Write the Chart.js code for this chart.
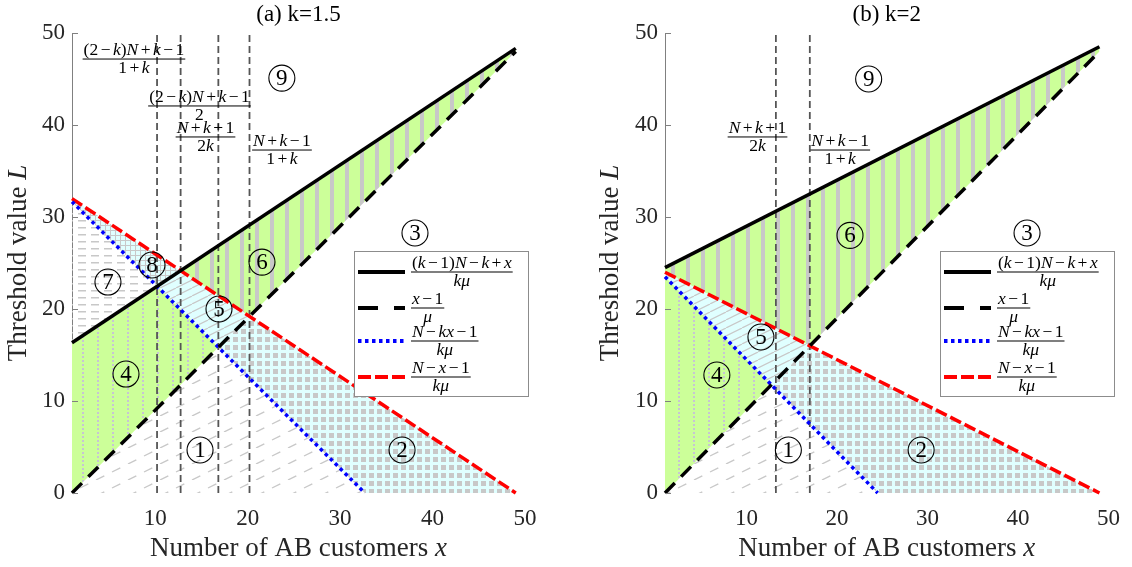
<!DOCTYPE html>
<html>
<head>
<meta charset="utf-8">
<script src="https://cdn.jsdelivr.net/npm/chart.js@4.4.1/dist/chart.umd.min.js"></script>
<style>
  html, body { margin: 0; padding: 0; background: #fff; }
  #wrap { position: relative; width: 1132px; height: 567px; }
  .panel { position: absolute; top: 0; width: 566px; height: 567px; }
</style>
</head>
<body>
<div id="wrap">
  <div class="panel" style="left:0"><canvas id="chartA" width="566" height="567"></canvas></div>
  <div class="panel" style="left:566px"><canvas id="chartB" width="566" height="567"></canvas></div>
</div>
<script>
// Ejes
const xTicks = [10, 20, 30, 40, 50];
const yTicks = [0, 10, 20, 30, 40, 50];

// (a) k=1.5 : extremos de las rectas
const aSolid = [[1, 16.33], [49, 48.33]];
const aDashed = [[1, 0], [49, 48]];
const aBlue = [[1, 31.67], [32.67, 0]];
const aRed = [[1, 32], [49, 0]];
const aVLines = [10.2, 12.75, 16.83, 20.2];

// (a) regiones: borde superior / inferior
const aRegionIds = [1, 2, 4, 5, 6, 7, 8];
const aRegionTops = [
  [[1, 0], [16.83, 15.83], [32.67, 0]],
  [[16.83, 15.83], [20.2, 19.2], [49, 0]],
  [[1, 16.33], [10.2, 22.47], [16.83, 15.83]],
  [[10.2, 22.47], [12.75, 24.17], [20.2, 19.2]],
  [[12.75, 24.17], [49, 48.33]],
  [[1, 31.67], [10.2, 22.47]],
  [[1, 32], [12.75, 24.17]]
];
const aRegionBots = [
  [[1, 0], [32.67, 0]],
  [[16.83, 15.83], [32.67, 0], [49, 0]],
  [[1, 0], [16.83, 15.83]],
  [[10.2, 22.47], [16.83, 15.83], [20.2, 19.2]],
  [[12.75, 24.17], [20.2, 19.2], [49, 48]],
  [[1, 16.33], [10.2, 22.47]],
  [[1, 31.67], [10.2, 22.47], [12.75, 24.17]]
];

// (b) k=2
const bSolid = [[1, 24.5], [49, 48.5]];
const bDashed = [[1, 0], [49, 48]];
const bBlue = [[1, 23.5], [24.5, 0]];
const bRed = [[1, 24], [49, 0]];
const bVLines = [13.25, 17];

const bRegionIds = [1, 2, 4, 5, 6];
const bRegionTops = [
  [[1, 0], [12.75, 11.75], [24.5, 0]],
  [[12.75, 11.75], [17, 16], [49, 0]],
  [[1, 23.5], [12.75, 11.75]],
  [[1, 24], [17, 16]],
  [[1, 24.5], [49, 48.5]]
];
const bRegionBots = [
  [[1, 0], [24.5, 0]],
  [[12.75, 11.75], [24.5, 0], [49, 0]],
  [[1, 0], [12.75, 11.75]],
  [[1, 23.5], [12.75, 11.75], [17, 16]],
  [[1, 24], [17, 16], [49, 48]]
];

// Textos
const legendNums = ['(k−1)N−k+x', 'x−1', 'N−kx−1', 'N−x−1'];
const legendDens = ['kμ', 'μ', 'kμ', 'kμ'];
const aFracNums = ['(2−k)N+k−1', '(2−k)N+k−1', 'N+k+1', 'N+k−1'];
const aFracDens = ['1+k', '2', '2k', '1+k'];
const bFracNums = ['N+k+1', 'N+k−1'];
const bFracDens = ['2k', '1+k'];
const regionNames = ['1', '2', '3', '4', '5', '6', '7', '8', '9'];

// ---- layout (posiciones de textos en unidades de datos) ----
const aLabelPos = [[14.85, 4.67], [36.7, 4.67], [38.1, 28.26], [6.84, 12.93], [16.9, 20.0], [21.55, 25.1], [4.89, 22.93], [9.65, 24.78], [23.7, 45.1]];
const bLabelPos = [[14.63, 4.67], [29.3, 4.67], [41.0, 28.26], [6.73, 12.83], [11.6, 16.96], [21.44, 28.0], null, null, [23.5, 45.0]];
const aFracPos = [[7.7, 47.17], [14.79, 42.07], [15.44, 38.7], [23.71, 37.28]];
const bFracPos = [[11.22, 38.7], [20.36, 37.28]];

const SERIF = '"Liberation Serif", "DejaVu Serif", serif';
const INK = '#262626';
const GREEN = '#ccff99', CYAN = '#e0ffff', HATCH = '#c8c8c8';

// Tramas de relleno
function tile(w, h, bg, draw) {
  const c = document.createElement('canvas');
  c.width = w; c.height = h;
  const g = c.getContext('2d');
  if (bg) { g.fillStyle = bg; g.fillRect(0, 0, w, h); }
  g.strokeStyle = HATCH; g.fillStyle = HATCH;
  draw(g, w, h);
  return g.createPattern(c, 'repeat');
}
const fills = {
  1: tile(32, 16, null, g => {
    g.lineWidth = 1.3;
    for (const dx of [-32, 0, 32]) for (const t0 of [0, 0.5]) {
      g.beginPath();
      g.moveTo(dx + 32 * t0, 16 - 16 * t0);
      g.lineTo(dx + 32 * (t0 + 0.26), 16 - 16 * (t0 + 0.26));
      g.stroke();
    }
  }),
  2: tile(8, 8, CYAN, g => g.fillRect(1, 1, 5, 5)),
  4: tile(15, 4, GREEN, g => { g.fillStyle = '#c6c6d2'; g.fillRect(7, 0, 2, 2); }),
  5: tile(16, 8, CYAN, g => {
    g.lineWidth = 1.2;
    for (const dx of [-16, 0, 16]) { g.beginPath(); g.moveTo(dx, 8); g.lineTo(dx + 16, 0); g.stroke(); }
  }),
  6: tile(15, 10, GREEN, g => g.fillRect(0, 0, 4, 10)),
  7: tile(13, 7, null, g => g.fillRect(0, 3, 8, 1.5)),
  8: tile(5, 5, CYAN, g => { g.fillRect(0, 0, 5, 1); g.fillRect(0, 0, 1, 5); })
};

// Texto con partes en cursiva (variables matematicas)
function mathRuns(str) {
  return Array.from(str).map(ch => ({ t: ch, it: /[A-Za-zμ]/.test(ch), op: /[+−=]/.test(ch) }));
}
function measureRuns(ctx, runs, size) {
  let w = 0;
  runs.forEach(r => {
    ctx.font = (r.it ? 'italic ' : '') + size + 'px ' + SERIF;
    r.pad = r.op ? size * 0.14 : 0;
    r.w = ctx.measureText(r.t).width + 2 * r.pad;
    w += r.w;
  });
  return w;
}
function drawRuns(ctx, runs, x, y, size, align) {
  const total = measureRuns(ctx, runs, size);
  let cx = align === 'center' ? x - total / 2 : x;
  ctx.textAlign = 'left';
  runs.forEach(r => {
    ctx.font = (r.it ? 'italic ' : '') + size + 'px ' + SERIF;
    ctx.fillText(r.t, cx + r.pad, y);
    cx += r.w;
  });
  return total;
}
function drawFrac(ctx, num, den, x, barY, size, fromLeft) {
  const nr = mathRuns(num), dr = mathRuns(den);
  const w = Math.max(measureRuns(ctx, nr, size), measureRuns(ctx, dr, size)) + 2;
  const left = fromLeft ? x : x - w / 2;
  ctx.fillStyle = '#000';
  ctx.fillRect(left, barY - 0.5, w, 1);
  ctx.textBaseline = 'alphabetic';
  drawRuns(ctx, nr, left + w / 2, barY - 4, size, 'center');
  drawRuns(ctx, dr, left + w / 2, barY + size * 0.8, size, 'center');
}

const pts = arr => arr.map(([x, y]) => ({ x, y }));
function lineDs(data, color, width, dash, clip) {
  return { data: pts(data), borderColor: color, borderWidth: width, borderDash: dash, pointRadius: 0, fill: false, clip: clip, tension: 0 };
}

function makeChart(id, p) {
  const datasets = [
    lineDs(p.solid, '#000', 3.5, [], false),
    lineDs(p.dashed, '#000', 3.5, [14, 9], false),
    lineDs(p.blue, '#0000ff', 3.5, [3.5, 3.5], false),
    lineDs(p.red, '#ff0000', 3.5, [12, 4], false)
  ];
  p.vlines.forEach(v => datasets.push(lineDs([[v, 0], [v, 50]], '#555555', 1.8, [7, 4], true)));
  p.regionIds.forEach((rid, i) => {
    const top = datasets.length;
    datasets.push({ data: pts(p.tops[i]), borderColor: 'rgba(0,0,0,0)', borderWidth: 0, pointRadius: 0, fill: top + 1, backgroundColor: fills[rid] });
    datasets.push({ data: pts(p.bots[i]), borderColor: 'rgba(0,0,0,0)', borderWidth: 0, pointRadius: 0, fill: false });
  });

  const overlay = {
    id: 'overlay',
    afterDatasetsDraw(chart) {
      const ctx = chart.ctx, xs = chart.scales.x, ys = chart.scales.y;
      ctx.save();
      // numeros de region en circulo
      p.labels.forEach((pos, i) => {
        if (!pos) return;
        const cx = xs.getPixelForValue(pos[0]), cy = ys.getPixelForValue(pos[1]);
        ctx.strokeStyle = '#000'; ctx.lineWidth = 1.1;
        ctx.beginPath(); ctx.arc(cx, cy, 13, 0, Math.PI * 2); ctx.stroke();
        ctx.fillStyle = '#000'; ctx.font = '23px ' + SERIF;
        ctx.textAlign = 'center'; ctx.textBaseline = 'middle';
        ctx.fillText(regionNames[i], cx, cy + 1);
      });
      // fracciones de las rectas verticales
      p.fracNums.forEach((n, i) => {
        drawFrac(ctx, n, p.fracDens[i], xs.getPixelForValue(p.fracPos[i][0]), ys.getPixelForValue(p.fracPos[i][1]), 17.5, false);
      });
      // leyenda
      const L = p.legendX, T = p.legendY;
      ctx.fillStyle = '#fff'; ctx.fillRect(L, T, 174, 145);
      ctx.strokeStyle = '#8c8c8c'; ctx.lineWidth = 1;
      ctx.strokeRect(L + 0.5, T + 0.5, 174, 145);
      const rows = [21, 57, 90, 126];
      const styles = [['#000', []], ['#000', [20, 16]], ['#0000ff', [3.5, 3.5]], ['#ff0000', [13, 4]]];
      rows.forEach((ry, i) => {
        ctx.strokeStyle = styles[i][0]; ctx.lineWidth = 4; ctx.setLineDash(styles[i][1]);
        ctx.beginPath(); ctx.moveTo(L + 4, T + ry); ctx.lineTo(L + 51, T + ry); ctx.stroke();
        ctx.setLineDash([]);
        drawFrac(ctx, legendNums[i], legendDens[i], L + 57, T + ry, 17.5, true);
      });
      ctx.restore();
    },
    afterDraw(chart) {
      const ctx = chart.ctx, a = chart.chartArea, ys = chart.scales.y;
      ctx.save();
      ctx.strokeStyle = '#808080'; ctx.lineWidth = 1;
      yTicks.forEach(v => {
        const y = Math.round(ys.getPixelForValue(v)) + 0.5;
        ctx.beginPath(); ctx.moveTo(a.left, y); ctx.lineTo(a.left + 6, y); ctx.stroke();
      });
      ctx.fillStyle = '#000'; ctx.textBaseline = 'middle';
      drawRuns(ctx, [{ t: p.title }], (a.left + a.right) / 2, 15, 23, 'center');
      ctx.fillStyle = INK; ctx.textBaseline = 'alphabetic';
      drawRuns(ctx, [{ t: 'Number of AB customers ' }, { t: 'x', it: true }], (a.left + a.right) / 2, 556, 27, 'center');
      ctx.translate(p.yTitleX, (a.top + a.bottom) / 2);
      ctx.rotate(-Math.PI / 2);
      ctx.textBaseline = 'middle';
      drawRuns(ctx, [{ t: 'Threshold value ' }, { t: 'L', it: true }], 0, 0, 27, 'center');
      ctx.restore();
    }
  };

  const tickFont = { family: SERIF, size: 23 };
  return new Chart(document.getElementById(id), {
    type: 'line',
    data: { datasets },
    options: {
      responsive: false,
      animation: false,
      events: [],
      layout: { padding: { left: 0, right: p.padRight, top: 33, bottom: 0 } },
      plugins: { legend: { display: false }, title: { display: false }, tooltip: { enabled: false } },
      scales: {
        x: {
          type: 'linear', min: 1, max: 50,
          grid: { display: false, drawTicks: false },
          border: { display: false },
          ticks: { font: tickFont, color: INK, padding: 12, maxRotation: 0 },
          afterBuildTicks: s => { s.ticks = xTicks.map(v => ({ value: v })); },
          afterFit: s => { s.height = 74; }
        },
        y: {
          type: 'linear', min: 0, max: 50,
          grid: { display: false, drawTicks: false },
          border: { display: true, color: '#808080', width: 1 },
          ticks: { font: tickFont, color: INK, padding: 7 },
          afterBuildTicks: s => { s.ticks = yTicks.map(v => ({ value: v })); },
          afterFit: s => { s.width = p.yAxisWidth; }
        }
      }
    },
    plugins: [overlay]
  });
}

makeChart('chartA', {
  title: '(a) k=1.5',
  solid: aSolid, dashed: aDashed, blue: aBlue, red: aRed, vlines: aVLines,
  regionIds: aRegionIds, tops: aRegionTops, bots: aRegionBots,
  labels: aLabelPos, fracNums: aFracNums, fracDens: aFracDens, fracPos: aFracPos,
  legendX: 354, legendY: 251, yAxisWidth: 72, padRight: 41, yTitleX: 19
});
makeChart('chartB', {
  title: '(b) k=2',
  solid: bSolid, dashed: bDashed, blue: bBlue, red: bRed, vlines: bVLines,
  regionIds: bRegionIds, tops: bRegionTops, bots: bRegionBots,
  labels: bLabelPos, fracNums: bFracNums, fracDens: bFracDens, fracPos: bFracPos,
  legendX: 374, legendY: 251, yAxisWidth: 99, padRight: 14, yTitleX: 45
});
</script>
</body>
</html>
